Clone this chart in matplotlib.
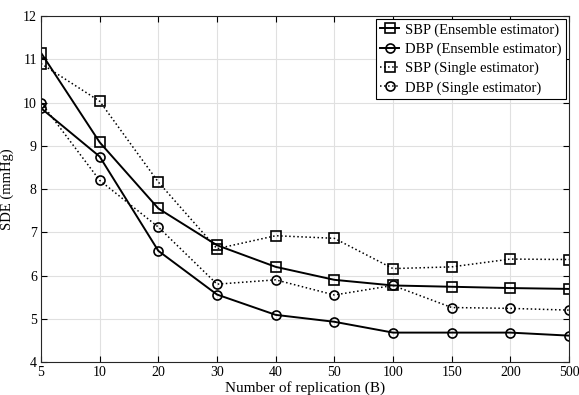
import numpy as np
import matplotlib.pyplot as plt

plt.rcParams['font.family'] = ['Liberation Serif', 'DejaVu Serif']

# %% Daten
b_labels = ["5", "10", "20", "30", "40", "50", "100", "150", "200", "500"]
sbp_ens = [11.15, 9.08, 7.55, 6.70, 6.20, 5.90, 5.77, 5.74, 5.71, 5.69]
dbp_ens = [9.87, 8.75, 6.57, 5.56, 5.09, 4.93, 4.68, 4.68, 4.68, 4.61]
sbp_single = [10.90, 10.03, 8.16, 6.62, 6.92, 6.86, 6.16, 6.20, 6.38, 6.37]
dbp_single = [10.00, 8.20, 7.12, 5.80, 5.90, 5.55, 5.77, 5.26, 5.24, 5.20]

x = np.arange(len(b_labels))

# %% Plot
fig = plt.figure(figsize=(5.79, 3.95), dpi=100)
ax = fig.add_axes([0.0708, 0.0835, 0.912, 0.876])

mk = dict(color="black", markerfacecolor="none", markeredgecolor="black",
          markersize=6.5, markeredgewidth=1.2)
ax.plot(x, sbp_ens, "-s", lw=1.4, label="SBP (Ensemble estimator)", **mk)
ax.plot(x, dbp_ens, "-o", lw=1.4, label="DBP (Ensemble estimator)", **mk)
ax.plot(x, sbp_single, ":s", lw=1.1, label="SBP (Single estimator)", **mk)
ax.plot(x, dbp_single, ":o", lw=1.1, label="DBP (Single estimator)", **mk)

ax.set_xlim(0, len(x) - 1)
ax.set_ylim(4, 12)
ax.set_xticks(x)
ax.set_xticklabels(b_labels)
ax.set_yticks(np.arange(4, 13, 1))
ax.tick_params(direction="in", top=True, right=True, labelsize=10, length=4, pad=3)
ax.grid(True, color="#e0e0e0", lw=0.8)
ax.set_axisbelow(True)
for s in ax.spines.values():
    s.set_color("#262626")
    s.set_linewidth(0.8)

ax.set_xlabel("Number of replication (B)", fontsize=11, labelpad=1)
ax.set_ylabel("SDE (mmHg)", fontsize=10.5, labelpad=6)

leg = ax.legend(loc="upper right", fontsize=10.5, fancybox=False, framealpha=1,
                edgecolor="black", borderpad=0.3, labelspacing=0.4,
                handlelength=1.3, handletextpad=0.4, borderaxespad=0.2)
leg.get_frame().set_linewidth(0.8)

fig.savefig("out.png", dpi=100)
